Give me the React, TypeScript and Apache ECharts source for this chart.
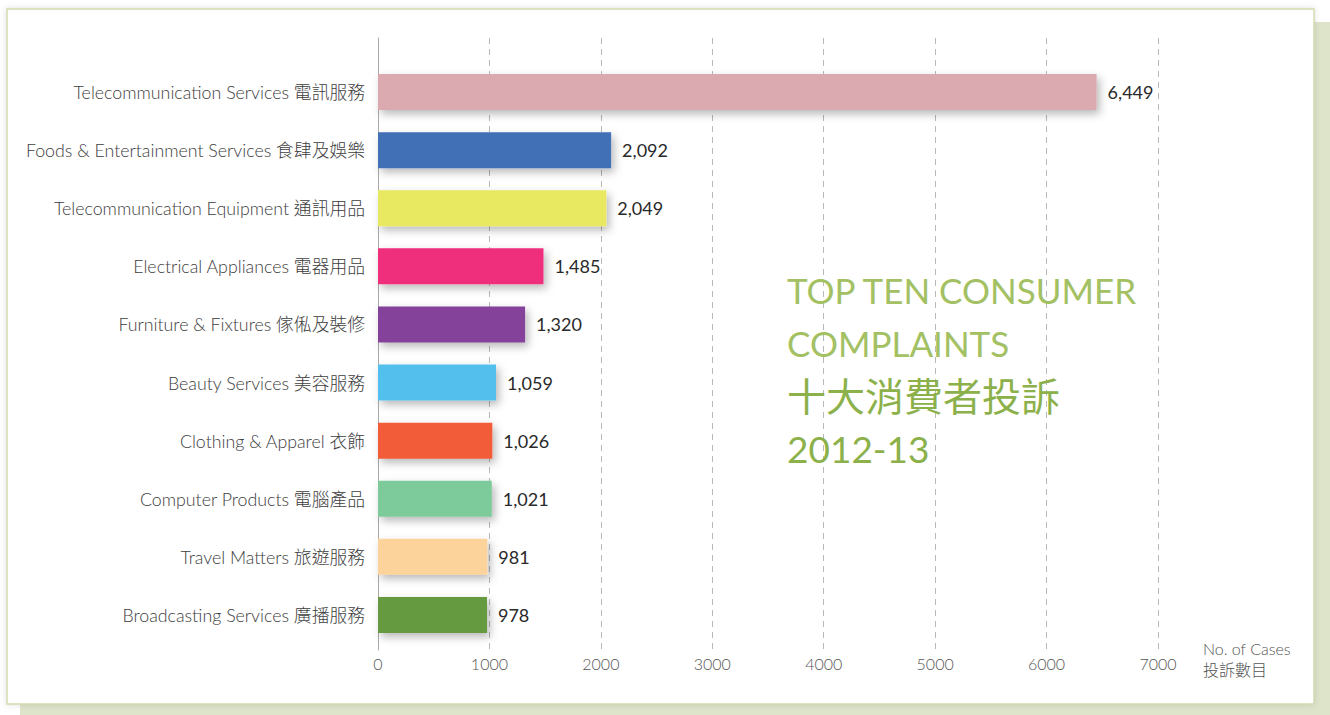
import React, { useEffect, useRef } from "react";
import * as echarts from "echarts";

const categories = [
  "Telecommunication Services 電訊服務",
  "Foods & Entertainment Services 食肆及娛樂",
  "Telecommunication Equipment 通訊用品",
  "Electrical Appliances 電器用品",
  "Furniture & Fixtures 傢俬及裝修",
  "Beauty Services 美容服務",
  "Clothing & Apparel 衣飾",
  "Computer Products 電腦產品",
  "Travel Matters 旅遊服務",
  "Broadcasting Services 廣播服務",
];
const values = [6449, 2092, 2049, 1485, 1320, 1059, 1026, 1021, 981, 978];
const barColors = [
  "#dbaab0", "#426fb7", "#e8e960", "#ef2d7b", "#84439b",
  "#53bfec", "#f25c37", "#7dcb9b", "#fdd39c", "#669a3f",
];
const titleLines = ["TOP TEN CONSUMER", "COMPLAINTS", "十大消費者投訴", "2012-13"];
const titleSizes = [35, 35, 39, 37];
const axisNameLines = ["No. of Cases", "投訴數目"];

const FONT = "Lato, 'Noto Sans CJK TC', sans-serif";

export default function App() {
  const ref = useRef<HTMLDivElement>(null);
  useEffect(() => {
    if (!ref.current) return;
    const chart = echarts.init(ref.current, undefined, { renderer: "svg" });
    chart.setOption({
      animation: false,
      graphic: [
        { type: "rect", z: -10, shape: { x: 20, y: 22, width: 1310, height: 693 }, style: { fill: "#dde4ca" } },
        {
          type: "rect", z: -9, shape: { x: 7, y: 9, width: 1307, height: 695 },
          style: { fill: "#ffffff", stroke: "#d3dab0", lineWidth: 1.5, shadowBlur: 6, shadowColor: "rgba(0,0,0,0.12)" },
        },
        ...titleLines.map((t, i) => ({
          type: "text", left: 787, top: 272 + i * 53 - (titleSizes[i] - 35) / 2, z: 10,
          style: { text: t, fill: i < 2 ? "#a3c163" : "#8cb14b", font: `400 ${titleSizes[i]}px ${FONT}` },
        })),
        ...axisNameLines.map((t, i) => ({
          type: "text", left: 1203, top: 640 + i * 21, z: 10,
          style: { text: t, fill: "#555", font: `300 16px ${FONT}` },
        })),
      ],
      grid: [
        { left: 378, top: 38, width: 780, height: 612 },
        { left: 378, top: 63, width: 780, height: 581 },
      ],
      xAxis: [
        {
          gridIndex: 0, type: "value", min: 0, max: 7000, interval: 1000,
          axisLine: { show: false }, axisTick: { show: false },
          axisLabel: { color: "#555", fontSize: 16, fontWeight: 300, fontFamily: FONT, margin: 5, formatter: (v: number) => String(v) },
          splitLine: { show: true, lineStyle: { color: "#b8b8b8", type: [6, 5], width: 1 } },
        },
        {
          gridIndex: 1, type: "value", min: 0, max: 7000, show: false,
          splitLine: { show: false },
        },
      ],
      yAxis: [
        {
          gridIndex: 0, type: "value", min: 0, max: 1,
          axisLine: { show: true, lineStyle: { color: "#aaa", width: 1 } },
          axisLabel: { show: false }, axisTick: { show: false }, splitLine: { show: false },
        },
        {
          gridIndex: 1, type: "category", inverse: true, data: categories,
          axisLine: { show: false }, axisTick: { show: false },
          axisLabel: { color: "#3d3d3d", fontSize: 17.8, fontWeight: 300, fontFamily: FONT, margin: 13 },
        },
      ],
      series: [
        {
          type: "bar", xAxisIndex: 1, yAxisIndex: 1, barWidth: 36, z: 5,
          data: values.map((v, i) => ({
            value: v,
            itemStyle: {
              color: barColors[i], shadowBlur: 8, shadowOffsetX: 3, shadowOffsetY: 4,
              shadowColor: "rgba(0,0,0,0.28)",
            },
          })),
          label: {
            show: true, position: "right", distance: 11, color: "#2a2a2a", fontSize: 18, fontWeight: 400, fontFamily: FONT,
            formatter: (p: any) => Number(p.value).toLocaleString("en-US"),
          },
        },
      ],
    });
    return () => chart.dispose();
  }, []);
  return (
    <div
      ref={ref}
      style={{ position: "absolute", left: 0, top: 0, width: 1330, height: 715, background: "#ffffff" }}
    />
  );
}
